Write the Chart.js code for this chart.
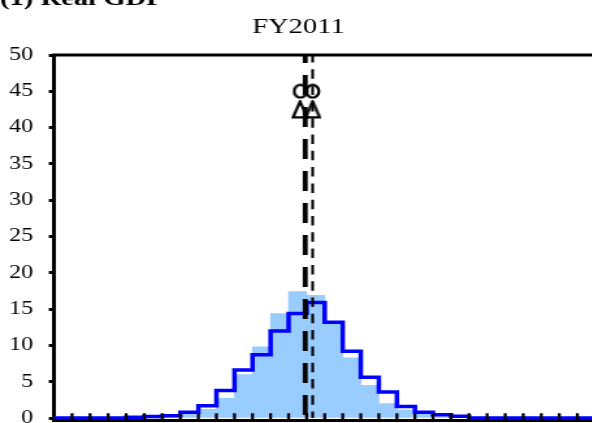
<!DOCTYPE html>
<html>
<head>
<meta charset="utf-8">
<script src="https://cdn.jsdelivr.net/npm/chart.js@4/dist/chart.umd.min.js"></script>
<style>
  html, body { margin: 0; padding: 0; background: #fff; overflow: hidden; width: 592px; height: 423px; }
  /* the reference is stretched sideways, so the whole canvas is too */
  #wrap { width: 458px; height: 423px; transform: scaleX(1.3); transform-origin: 0 0; }
</style>
</head>
<body>
<div id="wrap"><canvas id="gdpChart" width="458" height="423"></canvas></div>
<script>
// bins of the distribution (x axis in bin units, labels are cut off in the picture)
const binEdges = [0, 1, 2, 3, 4, 5, 6, 7, 8, 9, 10, 11, 12, 13, 14, 15,
                  16, 17, 18, 19, 20, 21, 22, 23, 24, 25, 26, 27, 28, 29, 30];
const binCenters = [0.5, 1.5, 2.5, 3.5, 4.5, 5.5, 6.5, 7.5, 8.5, 9.5, 10.5, 11.5, 12.5, 13.5, 14.5,
                    15.5, 16.5, 17.5, 18.5, 19.5, 20.5, 21.5, 22.5, 23.5, 24.5, 25.5, 26.5, 27.5, 28.5, 29.5];

// light blue histogram
const fillVals = [0, 0, 0, 0, 0, 0, 0.1, 0.55, 1.2, 2.7, 6.0, 9.8, 14.4, 17.4, 16.9,
                  13.0, 8.3, 4.5, 2.0, 1.1, 0.5, 0.2, 0.1, 0, 0, 0, 0, 0, 0, 0];
// blue step outline
const lineVals = [0, 0, 0, 0, 0.1, 0.2, 0.3, 0.8, 1.7, 3.8, 6.6, 8.7, 12.0, 14.4, 15.9,
                  13.2, 9.2, 5.6, 3.6, 1.6, 0.8, 0.45, 0.25, 0, 0, 0, 0, 0, 0, 0];

// vertical reference lines
const thickLineX = 13.92;
const thinLineX = 14.33;

// markers
const circleX = [13.65, 14.33];
const circleY = [45, 45];
const triangleX = [13.63, 14.33];
const triangleY = [42.5, 42.5];

const yTicks = [0, 5, 10, 15, 20, 25, 30, 35, 40, 45, 50];

Chart.defaults.font.family = "'Liberation Serif', 'Times New Roman', serif";
Chart.defaults.color = '#000';

// open marker shapes (narrower than tall, they get widened by the stretch)
function makeCircle() {
    const c = document.createElement('canvas');
    c.width = 13; c.height = 16;
    const g = c.getContext('2d');
    g.strokeStyle = '#000';
    g.lineWidth = 2.3;
    g.beginPath();
    g.ellipse(6.5, 8, 4.8, 6.3, 0, 0, Math.PI * 2);
    g.stroke();
    return c;
}
function makeTriangle() {
    const c = document.createElement('canvas');
    c.width = 14; c.height = 19;
    const g = c.getContext('2d');
    g.strokeStyle = '#000';
    g.lineWidth = 2.3;
    g.lineJoin = 'miter';
    g.beginPath();
    g.moveTo(7, 1.5);
    g.lineTo(12.4, 17.3);
    g.lineTo(1.6, 17.3);
    g.closePath();
    g.stroke();
    return c;
}

const stepPoints = binEdges.map((x, i) => ({ x: x, y: lineVals[Math.min(i, lineVals.length - 1)] }));

const framePlugin = {
    id: 'frame',
    afterDraw(chart) {
        const ctx = chart.ctx;
        const area = chart.chartArea;
        const xs = chart.scales.x;
        ctx.save();
        ctx.strokeStyle = '#000';
        // top border
        ctx.lineWidth = 3;
        ctx.beginPath();
        ctx.moveTo(area.left - 1.5, area.top);
        ctx.lineTo(area.right, area.top);
        ctx.stroke();
        // tick marks pointing inwards
        ctx.lineWidth = 2.3;
        ctx.beginPath();
        xs.ticks.forEach(t => {
            if (t.value <= xs.min || t.value >= xs.max) return;
            const px = xs.getPixelForValue(t.value);
            ctx.moveTo(px, area.bottom);
            ctx.lineTo(px, area.bottom - 7);
        });
        ctx.stroke();
        // panel heading, cut off at the top
        ctx.fillStyle = '#000';
        ctx.font = "bold 22px 'Liberation Serif'";
        ctx.textBaseline = 'alphabetic';
        ctx.fillText('(1) Real GDP', 0, 4.5);
        ctx.restore();
    }
};

const ctx = document.getElementById('gdpChart').getContext('2d');
const chart = new Chart(ctx, {
    type: 'bar',
    data: {
        datasets: [
            {
                type: 'scatter',
                label: 'circles',
                data: circleX.map((x, i) => ({ x: x, y: circleY[i] })),
                pointStyle: makeCircle(),
                pointRadius: 6,
                order: 0
            },
            {
                type: 'scatter',
                label: 'triangles',
                data: triangleX.map((x, i) => ({ x: x, y: triangleY[i] })),
                pointStyle: makeTriangle(),
                pointRadius: 6,
                order: 1
            },
            {
                type: 'line',
                label: 'thin dashed',
                data: [{ x: thinLineX, y: 50 }, { x: thinLineX, y: 0 }],
                borderColor: '#000',
                borderWidth: 2.1,
                borderDash: [9.5, 6.8],
                borderDashOffset: 2,
                pointRadius: 0,
                order: 2
            },
            {
                type: 'line',
                label: 'thick dashed',
                data: [{ x: thickLineX, y: 50 }, { x: thickLineX, y: 0 }],
                borderColor: '#000',
                borderWidth: 3.8,
                borderDash: [20, 12],
                borderDashOffset: 12,
                pointRadius: 0,
                order: 3
            },
            {
                type: 'line',
                label: 'outline',
                data: stepPoints,
                stepped: 'before',
                borderColor: '#0000ff',
                borderWidth: 3.5,
                pointRadius: 0,
                fill: false,
                order: 4
            },
            {
                type: 'bar',
                label: 'histogram',
                data: binCenters.map((x, i) => ({ x: x, y: fillVals[i] })),
                backgroundColor: '#99ccff',
                borderWidth: 0,
                barPercentage: 1.0,
                categoryPercentage: 1.0,
                order: 5
            }
        ]
    },
    options: {
        responsive: false,
        animation: false,
        // plot runs past the right edge of the window, as in the cropped picture
        layout: { autoPadding: false, padding: { top: 0, left: 0, right: -1.2, bottom: 0 } },
        plugins: {
            legend: { display: false },
            tooltip: { enabled: false },
            title: {
                display: true,
                text: 'FY2011',
                color: '#000',
                font: { size: 22, weight: 'normal' },
                padding: { top: 14.3, bottom: 14.3 }
            }
        },
        scales: {
            x: {
                type: 'linear',
                min: 0,
                max: 30,
                offset: false,
                ticks: { display: false, stepSize: 1 },
                grid: { display: false },
                border: { display: true, color: '#000', width: 3 },
                afterFit: s => { s.height = 2.8; }
            },
            y: {
                min: -0.3,
                max: 50,
                afterBuildTicks: s => { s.ticks = yTicks.map(v => ({ value: v })); },
                ticks: { color: '#000', padding: 12, font: { size: 18.5 } },
                grid: { drawOnChartArea: false, drawTicks: true, tickLength: 4, tickWidth: 3, tickColor: '#000' },
                border: { display: true, color: '#000', width: 3 },
                afterFit: s => { s.width = 41.54; s.paddingTop = 0; s.paddingBottom = 0; }
            }
        }
    },
    plugins: [framePlugin]
});
</script>
</body>
</html>
